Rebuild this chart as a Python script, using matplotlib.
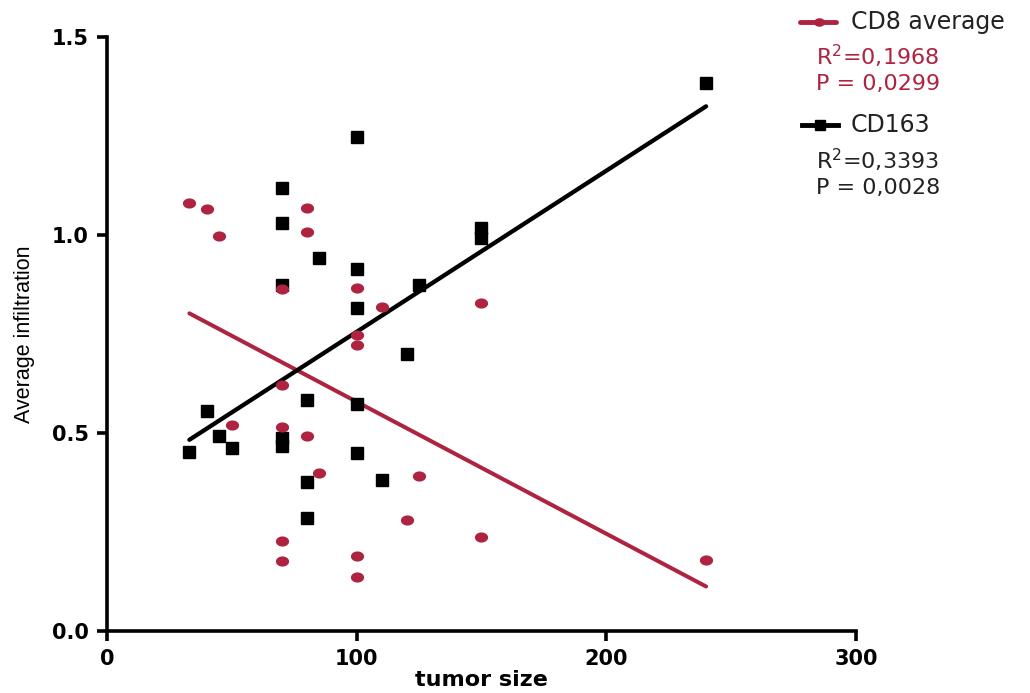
import numpy as np
import matplotlib
matplotlib.use('Agg')
import matplotlib.pyplot as plt
from matplotlib.lines import Line2D
from matplotlib.path import Path

plt.rcParams['font.family'] = ['DejaVu Sans']
plt.rcParams['mathtext.default'] = 'regular'

# CD8 average (red circles)
cd8_x = [33, 40, 45, 80, 80, 70, 100, 110, 100, 100, 70, 50, 70, 80, 85, 125,
         120, 70, 70, 100, 100, 150, 150, 240]
cd8_y = [1.081, 1.066, 0.997, 1.069, 1.008, 0.863, 0.867, 0.818, 0.747, 0.723,
         0.621, 0.520, 0.516, 0.492, 0.399, 0.392, 0.280, 0.226, 0.178, 0.189,
         0.136, 0.829, 0.237, 0.180]

# CD163 (black squares)
cd163_x = [100, 70, 70, 85, 100, 70, 125, 100, 120, 80, 100, 40, 45, 33, 50, 70,
           70, 100, 80, 110, 80, 150, 150, 240]
cd163_y = [1.247, 1.120, 1.030, 0.943, 0.913, 0.873, 0.875, 0.815, 0.700, 0.584,
           0.573, 0.555, 0.492, 0.452, 0.463, 0.487, 0.466, 0.449, 0.376, 0.381,
           0.285, 1.017, 0.992, 1.384]

series_names = ['CD8 average', 'CD163']
r2_labels = ['0,1968', '0,3393']
p_labels = ['0,0299', '0,0028']
red = '#AE2340'
dark = '#222222'

# slightly wide oval marker (the original figure is stretched sideways)
t = np.linspace(0, 2 * np.pi, 60)
oval = Path(np.column_stack([1.3 * np.cos(t), np.sin(t)]), closed=True)

fig = plt.figure(figsize=(10.3, 6.93), dpi=100)
ax = fig.add_axes([0.1039, 0.0895, 0.727, 0.857])

ax.plot(cd163_x, cd163_y, 's', color='black', markersize=8.5, zorder=3)
ax.plot(cd8_x, cd8_y, marker=oval, linestyle='none', color=red, markersize=9.5,
        markeredgewidth=0, zorder=4)

# linear regression lines over data range
for xs, ys, col, lw in [(cd8_x, cd8_y, red, 2.9), (cd163_x, cd163_y, 'black', 3.1)]:
    xs = np.array(xs)
    slope, icpt = np.polyfit(xs, ys, 1)
    xx = np.array([xs.min(), xs.max()])
    ax.plot(xx, slope * xx + icpt, color=col, linewidth=lw,
            solid_capstyle='round', zorder=2)

ax.set_xlim(0, 300)
ax.set_ylim(0, 1.5)
ax.set_xticks([0, 100, 200, 300])
ax.set_yticks([0.0, 0.5, 1.0, 1.5])
ax.set_yticklabels(['0.0', '0.5', '1.0', '1.5'])

for s in ['top', 'right']:
    ax.spines[s].set_visible(False)
for s in ['left', 'bottom']:
    ax.spines[s].set_linewidth(2.6)
ax.tick_params(width=2.6, length=7, direction='out')
ax.tick_params(axis='y', pad=6)
ax.tick_params(axis='x', pad=6)

for lab in ax.get_yticklabels() + ax.get_xticklabels():
    lab.set_fontsize(15)
    lab.set_fontweight('bold')

ax.set_xlabel('tumor size', fontsize=16, fontweight='bold', labelpad=1)
ax.set_ylabel('Average infiltration', fontsize=15.5,
              family='Liberation Sans', labelpad=12)

# legend with statistics, drawn in figure pixels
def fx(px):
    return px / 1030

def fy(py):
    return 1 - py / 693

fig.add_artist(Line2D([fx(800), fx(836)], [fy(22), fy(22)], color=red, lw=3.5,
                      solid_capstyle='round'))
fig.add_artist(Line2D([fx(819)], [fy(22)], color=red, marker=oval, markersize=8,
                      markeredgewidth=0))
fig.text(fx(851), fy(22), series_names[0], fontsize=17, va='center', color=dark)
fig.text(fx(816), fy(56), 'R$^2$=' + r2_labels[0], fontsize=16, va='center', color=red)
fig.text(fx(816), fy(84), 'P = ' + p_labels[0], fontsize=16, va='center', color=red)

fig.add_artist(Line2D([fx(802), fx(838)], [fy(125), fy(125)], color='black', lw=3.5))
fig.add_artist(Line2D([fx(820)], [fy(125)], color='black', marker='s', markersize=7))
fig.text(fx(851), fy(125), series_names[1], fontsize=17, va='center', color=dark)
fig.text(fx(816), fy(160), 'R$^2$=' + r2_labels[1], fontsize=16, va='center', color=dark)
fig.text(fx(816), fy(188), 'P = ' + p_labels[1], fontsize=16, va='center', color=dark)

fig.savefig('out.png', dpi=100, facecolor='white')
